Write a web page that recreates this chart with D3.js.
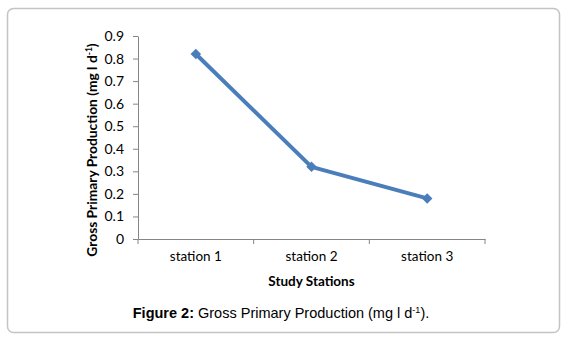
<!DOCTYPE html>
<html>
<head>
<meta charset="utf-8">
<script src="https://cdn.jsdelivr.net/npm/d3@7"></script>
<style>
  body { margin: 0; background: #fff; }
  svg { display: block; }
</style>
</head>
<body>
<div id="chart"></div>
<script>
// chart values
const stations = ["station 1", "station 2", "station 3"];
const gpp = [0.82, 0.32, 0.18];
const yTicks = [0, 0.1, 0.2, 0.3, 0.4, 0.5, 0.6, 0.7, 0.8, 0.9];

const width = 567, height = 340;
const margin = {top: 36, right: 82, bottom: 101, left: 138};

const svg = d3.select("#chart").append("svg")
    .attr("width", width)
    .attr("height", height);

// frame
svg.append("rect")
    .attr("x", 7.5).attr("y", 8.5)
    .attr("width", 552).attr("height", 324)
    .attr("rx", 6)
    .attr("fill", "#fff")
    .attr("stroke", "#c4c4c4")
    .attr("stroke-width", 1.5);

const x = d3.scaleBand()
    .domain(stations)
    .range([margin.left, width - margin.right]);

const y = d3.scaleLinear()
    .domain([0, 0.9])
    .range([height - margin.bottom, margin.top]);

const axisColor = "#868686";
const tickFont = "Lato, sans-serif";

// y axis
const yAxis = svg.append("g")
    .attr("transform", `translate(${margin.left},0)`)
    .call(d3.axisLeft(y).tickValues(yTicks).tickSize(5).tickSizeOuter(0).tickPadding(9)
        .tickFormat(d => d === 0 ? "0" : d3.format(".1f")(d)));
yAxis.select(".domain").attr("stroke", axisColor);
yAxis.selectAll(".tick line").attr("stroke", axisColor);
yAxis.selectAll("text")
    .attr("fill", "#000")
    .style("font-family", tickFont)
    .style("font-size", "14px");

// x axis
const xAxis = svg.append("g")
    .attr("transform", `translate(0,${height - margin.bottom})`)
    .call(d3.axisBottom(x).tickSize(0).tickPadding(12));
xAxis.select(".domain").attr("stroke", axisColor);
xAxis.selectAll("text")
    .attr("fill", "#000")
    .style("font-family", tickFont)
    .style("font-size", "13.5px");

// boundary tick marks between categories
const bounds = [x.range()[0]].concat(stations.map(s => x(s) + x.bandwidth()));
svg.append("g").selectAll("line")
    .data(bounds)
    .join("line")
    .attr("x1", d => d).attr("x2", d => d)
    .attr("y1", height - margin.bottom)
    .attr("y2", height - margin.bottom + 5)
    .attr("stroke", axisColor);

// line
const line = d3.line()
    .x((d, i) => x(stations[i]) + x.bandwidth() / 2)
    .y(d => y(d));

svg.append("path")
    .datum(gpp)
    .attr("d", line)
    .attr("fill", "none")
    .attr("stroke", "#4a7ebb")
    .attr("stroke-width", 4)
    .attr("stroke-linejoin", "round");

svg.append("g").selectAll("path")
    .data(gpp)
    .join("path")
    .attr("d", d3.symbol(d3.symbolSquare, 55))
    .attr("transform", (d, i) => `translate(${x(stations[i]) + x.bandwidth() / 2},${y(d)}) rotate(45)`)
    .attr("fill", "#4a7ebb");

// axis titles
const yTitle = svg.append("text")
    .attr("transform", `translate(97,150) rotate(-90)`)
    .attr("text-anchor", "middle")
    .style("font-family", tickFont)
    .style("font-size", "13.8px")
    .style("font-weight", "bold");
yTitle.append("tspan").text("Gross Primary Production (mg l d");
yTitle.append("tspan").attr("dy", -5).style("font-size", "8.5px").text("-1");
yTitle.append("tspan").attr("dy", 5).text(")");

svg.append("text")
    .attr("x", (x.range()[0] + x.range()[1]) / 2)
    .attr("y", 286)
    .attr("text-anchor", "middle")
    .style("font-family", tickFont)
    .style("font-size", "13.5px")
    .style("font-weight", "bold")
    .text("Study Stations");

// caption
const cap = svg.append("text")
    .attr("x", 281)
    .attr("y", 318)
    .attr("text-anchor", "middle")
    .style("font-family", "'Liberation Sans', Arial, sans-serif")
    .style("font-size", "14.5px");
cap.append("tspan").style("font-weight", "bold").text("Figure 2:");
cap.append("tspan").text(" Gross Primary Production (mg l d");
cap.append("tspan").attr("dy", -5).style("font-size", "9px").text("-1");
cap.append("tspan").attr("dy", 5).text(").");
</script>
</body>
</html>
